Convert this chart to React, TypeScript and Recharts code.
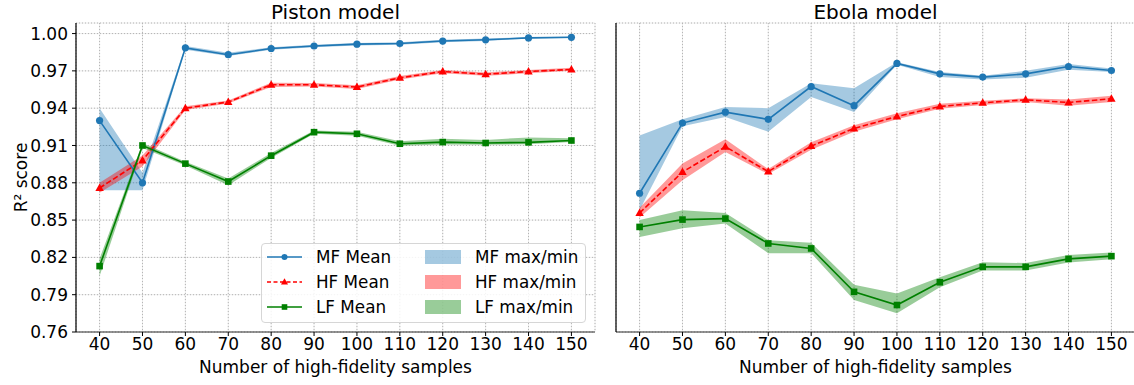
import React from 'react';
import { ComposedChart, Line, Area, XAxis, YAxis, CartesianGrid } from 'recharts';

const samples = [40, 50, 60, 70, 80, 90, 100, 110, 120, 130, 140, 150];
const yTicks = [0.76, 0.79, 0.82, 0.85, 0.88, 0.91, 0.94, 0.97, 1.0];

// Piston model
const pistonMfMean = [0.930, 0.880, 0.9885, 0.983, 0.988, 0.990, 0.9915, 0.992, 0.994, 0.995, 0.9965, 0.997];
const pistonMfMax = [0.940, 0.888, 0.990, 0.9845, 0.989, 0.991, 0.9925, 0.993, 0.995, 0.996, 0.997, 0.9975];
const pistonMfMin = [0.874, 0.874, 0.987, 0.982, 0.987, 0.989, 0.9905, 0.991, 0.993, 0.994, 0.996, 0.9965];
const pistonHfMean = [0.8758, 0.898, 0.940, 0.945, 0.9588, 0.9588, 0.957, 0.9644, 0.9695, 0.9673, 0.9695, 0.9711];
const pistonHfMax = [0.880, 0.902, 0.9415, 0.9462, 0.9605, 0.9602, 0.9585, 0.9658, 0.9708, 0.9686, 0.9708, 0.9725];
const pistonHfMin = [0.872, 0.893, 0.9385, 0.9438, 0.957, 0.9574, 0.9555, 0.963, 0.968, 0.966, 0.968, 0.970];
const pistonLfMean = [0.813, 0.910, 0.8954, 0.881, 0.9018, 0.9207, 0.9194, 0.9114, 0.9127, 0.912, 0.9125, 0.914];
const pistonLfMax = [0.819, 0.912, 0.897, 0.8835, 0.904, 0.922, 0.921, 0.9135, 0.9155, 0.9145, 0.9165, 0.9158];
const pistonLfMin = [0.805, 0.908, 0.894, 0.878, 0.900, 0.9195, 0.9178, 0.9098, 0.9108, 0.9105, 0.911, 0.9128];

// Ebola model
const ebolaMfMean = [0.8716, 0.928, 0.9368, 0.931, 0.9574, 0.942, 0.976, 0.9676, 0.965, 0.9676, 0.9735, 0.9703];
const ebolaMfMax = [0.918, 0.931, 0.941, 0.940, 0.960, 0.956, 0.977, 0.969, 0.966, 0.970, 0.9755, 0.972];
const ebolaMfMin = [0.858, 0.9255, 0.933, 0.921, 0.949, 0.937, 0.975, 0.965, 0.963, 0.9645, 0.971, 0.969];
const ebolaHfMean = [0.8557, 0.8887, 0.909, 0.889, 0.9095, 0.9237, 0.9333, 0.9414, 0.9443, 0.9467, 0.9446, 0.9476];
const ebolaHfMax = [0.860, 0.8956, 0.915, 0.891, 0.9125, 0.9262, 0.936, 0.9435, 0.946, 0.948, 0.947, 0.950];
const ebolaHfMin = [0.852, 0.882, 0.9047, 0.887, 0.9065, 0.921, 0.931, 0.9395, 0.9425, 0.945, 0.942, 0.945];
const ebolaLfMean = [0.8445, 0.8504, 0.8512, 0.8312, 0.8272, 0.7923, 0.7817, 0.800, 0.8124, 0.8124, 0.8188, 0.821];
const ebolaLfMax = [0.850, 0.858, 0.8557, 0.8338, 0.8317, 0.798, 0.791, 0.804, 0.816, 0.8155, 0.822, 0.824];
const ebolaLfMin = [0.8365, 0.8435, 0.8472, 0.8234, 0.8234, 0.7857, 0.775, 0.796, 0.8095, 0.8095, 0.8158, 0.8185];

const MF = '#1f77b4';
const HF = '#ff0000';
const LF = '#008000';
const FONT = '"DejaVu Sans", sans-serif';

const buildRows = (mf: number[][], hf: number[][], lf: number[][]) =>
  samples.map((n, i) => ({
    n,
    mfMean: mf[0][i], mfBand: [mf[2][i], mf[1][i]],
    hfMean: hf[0][i], hfBand: [hf[2][i], hf[1][i]],
    lfMean: lf[0][i], lfBand: [lf[2][i], lf[1][i]],
  }));

const pistonRows = buildRows(
  [pistonMfMean, pistonMfMax, pistonMfMin],
  [pistonHfMean, pistonHfMax, pistonHfMin],
  [pistonLfMean, pistonLfMax, pistonLfMin]
);
const ebolaRows = buildRows(
  [ebolaMfMean, ebolaMfMax, ebolaMfMin],
  [ebolaHfMean, ebolaHfMax, ebolaHfMin],
  [ebolaLfMean, ebolaLfMax, ebolaLfMin]
);

const CircleDot = (props: any) => {
  const { cx, cy } = props;
  if (cx == null || cy == null) return <g />;
  return <circle cx={cx} cy={cy} r={3.6} fill={MF} />;
};
const TriangleDot = (props: any) => {
  const { cx, cy } = props;
  if (cx == null || cy == null) return <g />;
  return <polygon points={`${cx},${cy - 4.5} ${cx - 4.2},${cy + 3} ${cx + 4.2},${cy + 3}`} fill={HF} />;
};
const SquareDot = (props: any) => {
  const { cx, cy } = props;
  if (cx == null || cy == null) return <g />;
  return <rect x={cx - 3.3} y={cy - 3.3} width={6.6} height={6.6} fill={LF} />;
};

// rotated y label, placed left of the tick labels
const YLabel = (props: any) => {
  const vb = props.viewBox || {};
  const x = 21;
  const y = (vb.y ?? 23) + (vb.height ?? 309) / 2;
  return (
    <text x={x} y={y} transform={`rotate(-90, ${x}, ${y})`} textAnchor="middle" dominantBaseline="central" fontSize={17} fontFamily={FONT} fill="#000">
      R² score
    </text>
  );
};

function Panel({ rows, width, showY }: { rows: any[]; width: number; showY: boolean }) {
  const tickStyle = { fontSize: 17, fill: '#000', fontFamily: FONT };
  return (
    <ComposedChart width={width} height={385} data={rows} margin={{ top: 23, right: 5, left: 0, bottom: 0 }}>
      <CartesianGrid stroke="#ececec" strokeWidth={1} />
      <CartesianGrid stroke="#b4b4b4" strokeDasharray="1 2" strokeWidth={1} />
      <XAxis
        dataKey="n"
        type="number"
        domain={[34.5, 155.5]}
        ticks={samples}
        allowDataOverflow
        height={53}
        tickSize={4}
        tick={tickStyle}
        stroke="#000"
        axisLine={{ stroke: '#333', strokeWidth: 1.2 }}
        label={{ value: 'Number of high-fidelity samples', position: 'insideBottom', offset: 12, fontSize: 17, fill: '#000', fontFamily: FONT }}
      />
      <XAxis xAxisId="top" orientation="top" dataKey="n" type="number" domain={[34.5, 155.5]} height={0} tick={false} tickLine={false} axisLine={{ stroke: '#333', strokeWidth: 1.2 }} />
      <YAxis
        type="number"
        domain={[0.76, 1.0085]}
        ticks={yTicks}
        allowDataOverflow
        width={showY ? 76 : 16}
        tickSize={4}
        tickMargin={4}
        stroke="#000"
        axisLine={{ stroke: '#000', strokeWidth: 1.2 }}
        tick={showY ? tickStyle : false}
        tickFormatter={(v: number) => v.toFixed(2)}
        label={showY ? <YLabel /> : undefined}
      />
      <YAxis yAxisId="right" orientation="right" type="number" domain={[0.76, 1.0085]} width={0} tick={false} tickLine={false} axisLine={{ stroke: '#000', strokeWidth: 1.2 }} />

      <Area dataKey="mfBand" type="linear" fill={MF} fillOpacity={0.4} stroke="none" dot={false} activeDot={false} isAnimationActive={false} />
      <Area dataKey="hfBand" type="linear" fill={HF} fillOpacity={0.4} stroke="none" dot={false} activeDot={false} isAnimationActive={false} />
      <Area dataKey="lfBand" type="linear" fill={LF} fillOpacity={0.4} stroke="none" dot={false} activeDot={false} isAnimationActive={false} />

      <Line dataKey="mfMean" type="linear" stroke={MF} strokeWidth={1.6} dot={<CircleDot />} activeDot={false} isAnimationActive={false} />
      <Line dataKey="hfMean" type="linear" stroke={HF} strokeWidth={1.6} strokeDasharray="5.5 2.5" dot={<TriangleDot />} activeDot={false} isAnimationActive={false} />
      <Line dataKey="lfMean" type="linear" stroke={LF} strokeWidth={1.6} dot={<SquareDot />} activeDot={false} isAnimationActive={false} />
    </ComposedChart>
  );
}

const legendItems = [
  { label: 'MF Mean', band: 'MF max/min', color: MF, dash: undefined, marker: 'circle' },
  { label: 'HF Mean', band: 'HF max/min', color: HF, dash: '4 2.5', marker: 'triangle' },
  { label: 'LF Mean', band: 'LF max/min', color: LF, dash: undefined, marker: 'square' },
];

function LegendBox() {
  return (
    <div
      style={{
        position: 'absolute', left: 261, top: 243, width: 325, height: 80,
        border: '1px solid #d6d6d6', borderRadius: 4, background: 'rgba(255,255,255,0.85)', boxSizing: 'border-box',
      }}
    >
      <svg width={325} height={80} style={{ position: 'absolute', left: -1, top: -1 }}>
        {legendItems.map((it, i) => {
          const y = 14 + i * 25;
          const mx = 23.5;
          return (
            <g key={it.label}>
              <line x1={6} x2={41} y1={y} y2={y} stroke={it.color} strokeWidth={1.6} strokeDasharray={it.dash} />
              {it.marker === 'circle' && <circle cx={mx} cy={y} r={3} fill={it.color} />}
              {it.marker === 'triangle' && <polygon points={`${mx},${y - 3.8} ${mx - 3.5},${y + 2.5} ${mx + 3.5},${y + 2.5}`} fill={it.color} />}
              {it.marker === 'square' && <rect x={mx - 2.8} y={y - 2.8} width={5.6} height={5.6} fill={it.color} />}
              <text x={55} y={y} dy="0.36em" fontSize={16.8} fontFamily={FONT} fill="#000">{it.label}</text>
              <rect x={164} y={y - 7} width={36} height={14} fill={it.color} fillOpacity={0.4} />
              <text x={214} y={y} dy="0.36em" fontSize={16.8} fontFamily={FONT} fill="#000">{it.band}</text>
            </g>
          );
        })}
      </svg>
    </div>
  );
}

const titleStyle: React.CSSProperties = {
  position: 'absolute', top: 0, fontSize: 20, fontFamily: FONT, color: '#000', textAlign: 'center', lineHeight: '24px',
};

export default function App() {
  return (
    <div style={{ position: 'fixed', left: 0, top: 0, width: 1134, height: 385, overflow: 'hidden', background: '#fff', fontFamily: FONT }}>
      <div style={{ position: 'absolute', left: 0, top: 0 }}>
        <Panel rows={pistonRows} width={600} showY />
      </div>
      <div style={{ position: 'absolute', left: 600, top: 0 }}>
        <Panel rows={ebolaRows} width={540} showY={false} />
      </div>
      <div style={{ ...titleStyle, left: 76, width: 519 }}>Piston model</div>
      <div style={{ ...titleStyle, left: 616, width: 519 }}>Ebola model</div>
      <LegendBox />
    </div>
  );
}
